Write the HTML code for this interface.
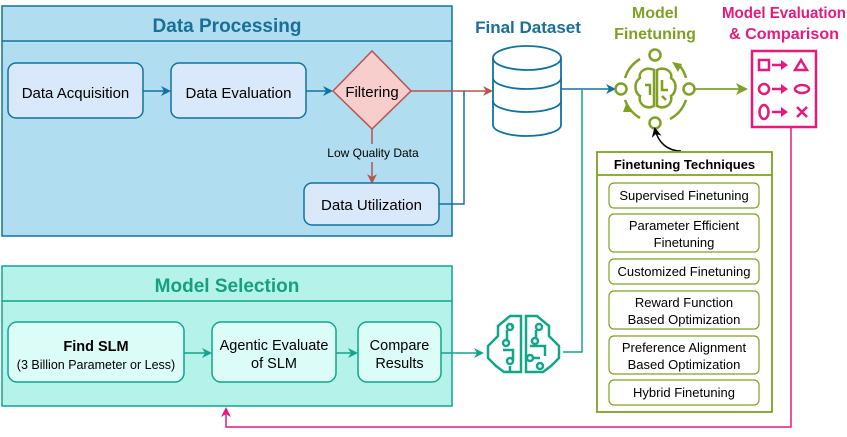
<!DOCTYPE html>
<html><head><meta charset="utf-8"><style>
html,body{margin:0;padding:0;background:#fff;}
svg{display:block;font-family:"Liberation Sans",Arial,sans-serif;}
</style></head><body>
<svg width="847" height="437" viewBox="0 0 847 437" xmlns="http://www.w3.org/2000/svg">
<defs>
<marker id="ab" markerWidth="10" markerHeight="10" refX="8" refY="5" orient="auto" markerUnits="userSpaceOnUse"><path d="M0,0 L10,5 L0,10 L3,5 Z" fill="#10739e"/></marker>
<marker id="ar" markerWidth="10" markerHeight="10" refX="8" refY="5" orient="auto" markerUnits="userSpaceOnUse"><path d="M0,0 L10,5 L0,10 L3,5 Z" fill="#b85450"/></marker>
<marker id="at" markerWidth="10" markerHeight="10" refX="8" refY="5" orient="auto" markerUnits="userSpaceOnUse"><path d="M0,0 L10,5 L0,10 L3,5 Z" fill="#12a58a"/></marker>
<marker id="ag" markerWidth="12" markerHeight="12" refX="10" refY="6" orient="auto" markerUnits="userSpaceOnUse"><path d="M0,0 L12,6 L0,12 L3,6 Z" fill="#7fa025"/></marker>
<marker id="ap" markerWidth="10" markerHeight="10" refX="8" refY="5" orient="auto" markerUnits="userSpaceOnUse"><path d="M0,0 L10,5 L0,10 L3,5 Z" fill="#e6197d"/></marker>
<marker id="ak" markerWidth="10" markerHeight="10" refX="8" refY="5" orient="auto" markerUnits="userSpaceOnUse"><path d="M0,0 L10,5 L0,10 L3,5 Z" fill="#000"/></marker>
</defs>

<rect x="2" y="6" width="450" height="230" fill="#b1ddf0" stroke="#10739e" stroke-width="1.5"/>
<line x1="2" y1="41" x2="452" y2="41" stroke="#10739e" stroke-width="1.5"/>
<text x="227" y="32" text-anchor="middle" font-size="19" font-weight="bold" fill="#1a6f96">Data Processing</text>
<rect x="8" y="63" width="135" height="55" rx="8" fill="#dae8fc" stroke="#10739e" stroke-width="1.5"/>
<text x="75.5" y="98" text-anchor="middle" font-size="15">Data Acquisition</text>
<rect x="171" y="63" width="135" height="55" rx="8" fill="#dae8fc" stroke="#10739e" stroke-width="1.5"/>
<text x="238.5" y="98" text-anchor="middle" font-size="15">Data Evaluation</text>
<line x1="143" y1="91" x2="169" y2="91" stroke="#10739e" stroke-width="1.5" marker-end="url(#ab)"/>
<line x1="306" y1="91" x2="331" y2="91" stroke="#10739e" stroke-width="1.5" marker-end="url(#ab)"/>
<path d="M372,51 L411,91 L372,129 L333,91 Z" fill="#f8cecc" stroke="#b85450" stroke-width="1.5"/>
<text x="372" y="97" text-anchor="middle" font-size="15">Filtering</text>
<line x1="372" y1="129" x2="372" y2="144" stroke="#b85450" stroke-width="1.5"/>
<text x="373" y="157" text-anchor="middle" font-size="12">Low Quality Data</text>
<line x1="372" y1="162" x2="372" y2="182" stroke="#b85450" stroke-width="1.5" marker-end="url(#ar)"/>
<rect x="304" y="183" width="135" height="42" rx="8" fill="#dae8fc" stroke="#10739e" stroke-width="1.5"/>
<text x="371.5" y="210" text-anchor="middle" font-size="15">Data Utilization</text>
<line x1="411" y1="91" x2="491" y2="91" stroke="#b85450" stroke-width="1.5" marker-end="url(#ar)"/>
<polyline points="439,204 464,204 464,91" fill="none" stroke="#10739e" stroke-width="1.5"/>

<text x="528" y="33" text-anchor="middle" font-size="17" font-weight="bold" fill="#1a6f96">Final Dataset</text>
<g fill="none" stroke="#10739e" stroke-width="1.8">
<path d="M493,58 L493,125 A34,11 0 0 0 561,125 L561,58"/>
<ellipse cx="527" cy="58" rx="34" ry="12"/>
<path d="M493,78 A34,11 0 0 0 561,78"/>
<path d="M493,101 A34,11 0 0 0 561,101"/>
</g>
<line x1="561" y1="89" x2="614" y2="89" stroke="#10739e" stroke-width="1.5" marker-end="url(#ab)"/>
<polyline points="563,352 582,352 582,90" fill="none" stroke="#12a58a" stroke-width="1.5"/>

<text x="655" y="18" text-anchor="middle" font-size="16" font-weight="bold" fill="#7fa025">Model</text>
<text x="655" y="39" text-anchor="middle" font-size="16" font-weight="bold" fill="#7fa025">Finetuning</text>
<g fill="none" stroke="#7fa025" stroke-width="2.5">
<path d="M640,59 A34,34 0 0 0 625,78"/>
<path d="M625,100 A34,34 0 0 0 640,118"/>
<path d="M670,119 A34,34 0 0 0 686,100"/>
<path d="M686,78 A34,34 0 0 0 680,66"/>
<circle cx="655" cy="55" r="5.5" fill="#fff"/>
<circle cx="621" cy="89" r="5.5" fill="#fff"/>
<circle cx="689" cy="89" r="5.5" fill="#fff"/>
<circle cx="655" cy="123" r="5.5" fill="#fff"/>
<path d="M654,70 C646,66 638,72 640,78 C634,82 634,92 640,96 C638,104 646,110 654,106 Z"/>
<path d="M657,70 C665,66 673,72 671,78 C677,82 677,92 671,96 C673,104 665,110 657,106 Z"/>
<path d="M645,85 L650,85 L650,95 M662,80 L662,90 L668,90 M662,96 L666,100"/>
</g>
<path d="M672,62 L682,64 L678,72 Z" fill="#7fa025"/>
<path d="M626,104 L632,112 L623,112 Z" fill="#7fa025"/>
<line x1="695" y1="89" x2="746" y2="89" stroke="#7fa025" stroke-width="1.8" marker-end="url(#ag)"/>
<path d="M681,151 C668,151 658,143 655,129" fill="none" stroke="#000" stroke-width="1.5" marker-end="url(#ak)"/>

<text x="784" y="18" text-anchor="middle" font-size="16" font-weight="bold" fill="#e6197d" textLength="124" lengthAdjust="spacingAndGlyphs">Model Evaluation</text>
<text x="784" y="39" text-anchor="middle" font-size="16" font-weight="bold" fill="#e6197d" textLength="110" lengthAdjust="spacingAndGlyphs">&amp; Comparison</text>
<rect x="752" y="51" width="64" height="76" fill="none" stroke="#e6197d" stroke-width="2.5"/>
<g fill="none" stroke="#e6197d" stroke-width="2.5">
<rect x="759" y="60" width="10" height="10"/>
<circle cx="764" cy="89" r="5"/>
<ellipse cx="764" cy="112" rx="4.5" ry="7"/>
<path d="M772,65 L783,65 M772,89 L783,89 M772,112 L783,112"/>
<path d="M795,70 L801,60 L807,70 Z"/>
<ellipse cx="802" cy="89" rx="7" ry="4"/>
<path d="M797,107 L807,117 M807,107 L797,117"/>
</g>
<path d="M781,60 L788,65 L781,70 Z M781,84 L788,89 L781,94 Z M781,107 L788,112 L781,117 Z" fill="#e6197d"/>

<rect x="597" y="152" width="175" height="260" fill="#fff" stroke="#7fa025" stroke-width="1.8"/>
<line x1="597" y1="175" x2="772" y2="175" stroke="#7fa025" stroke-width="1.8"/>
<text x="684.5" y="169" text-anchor="middle" font-size="13" font-weight="bold">Finetuning Techniques</text>
<g fill="#fff" stroke="#7fa025" stroke-width="1.2">
<rect x="609" y="183" width="150" height="25" rx="5"/>
<rect x="609" y="214" width="150" height="38" rx="5"/>
<rect x="609" y="259" width="150" height="25" rx="5"/>
<rect x="609" y="291" width="150" height="38" rx="5"/>
<rect x="609" y="336" width="150" height="38" rx="5"/>
<rect x="609" y="380" width="150" height="25" rx="5"/>
</g>
<g font-size="13" text-anchor="middle">
<text x="684" y="200">Supervised Finetuning</text>
<text x="684" y="230">Parameter Efficient</text>
<text x="684" y="247">Finetuning</text>
<text x="684" y="276">Customized Finetuning</text>
<text x="684" y="307">Reward Function</text>
<text x="684" y="324">Based Optimization</text>
<text x="684" y="352">Preference Alignment</text>
<text x="684" y="369">Based Optimization</text>
<text x="684" y="397">Hybrid Finetuning</text>
</g>

<polyline points="791,127 791,427 226,427 226,409" fill="none" stroke="#e6197d" stroke-width="1.5" marker-end="url(#ap)"/>

<rect x="2" y="266" width="450" height="140" fill="#b5f2ea" stroke="#12a58a" stroke-width="1.5"/>
<line x1="2" y1="301" x2="452" y2="301" stroke="#12a58a" stroke-width="1.5"/>
<text x="227" y="292" text-anchor="middle" font-size="19" font-weight="bold" fill="#14a17f">Model Selection</text>
<rect x="8" y="322" width="176" height="60" rx="9" fill="#dcfcf7" stroke="#12a58a" stroke-width="1.5"/>
<text x="96" y="351" text-anchor="middle" font-size="14.5" font-weight="bold">Find SLM</text>
<text x="96" y="369" text-anchor="middle" font-size="12.5">(3 Billion Parameter or Less)</text>
<rect x="212" y="322" width="124" height="60" rx="9" fill="#dcfcf7" stroke="#12a58a" stroke-width="1.5"/>
<text x="274" y="350" text-anchor="middle" font-size="14.5">Agentic Evaluate</text>
<text x="274" y="368" text-anchor="middle" font-size="14.5">of SLM</text>
<rect x="358" y="322" width="83" height="60" rx="9" fill="#dcfcf7" stroke="#12a58a" stroke-width="1.5"/>
<text x="399.5" y="350" text-anchor="middle" font-size="14.5">Compare</text>
<text x="399.5" y="368" text-anchor="middle" font-size="14.5">Results</text>
<line x1="184" y1="353" x2="210" y2="353" stroke="#12a58a" stroke-width="1.5" marker-end="url(#at)"/>
<line x1="336" y1="353" x2="356" y2="353" stroke="#12a58a" stroke-width="1.5" marker-end="url(#at)"/>
<line x1="441" y1="353" x2="482" y2="353" stroke="#12a58a" stroke-width="1.5" marker-end="url(#at)"/>

<g fill="none" stroke="#12a58a" stroke-width="2.5">
<path d="M521,316 L510,316 L498,326 L498,336 L488,346 L488,358 L496,366 L504,372 L521,372 Z"/>
<path d="M526,316 L537,316 L549,326 L549,336 L559,346 L559,358 L551,366 L543,372 L526,372 Z"/>
<path d="M507,330 L507,340 M514,326 L511,326 M503,350 L513,350 L513,360 M510,366 L510,372"/>
<circle cx="510" cy="327" r="3"/><circle cx="506" cy="343" r="3"/><circle cx="510" cy="361" r="3"/>
<path d="M536,330 L536,338 M530,346 L545,346 L545,356 M532,358 L540,358"/>
<circle cx="539" cy="327" r="3"/><circle cx="535" cy="341" r="3"/><circle cx="530" cy="358" r="3"/><circle cx="540" cy="366" r="3"/>
</g>
</svg>
</body></html>
